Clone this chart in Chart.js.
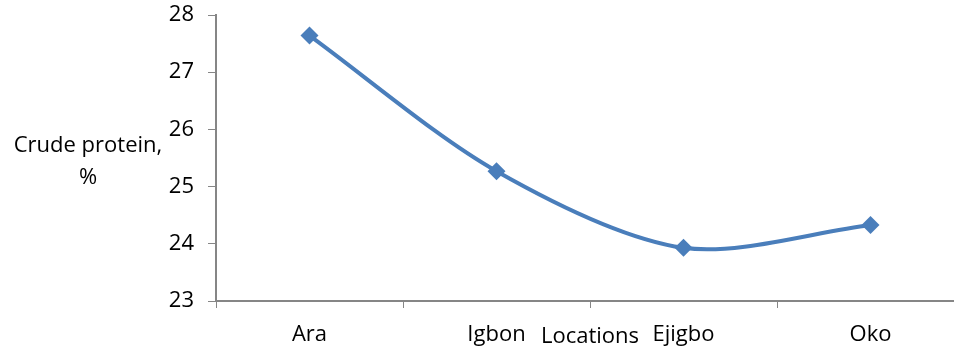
<!DOCTYPE html>
<html>
<head>
<meta charset="utf-8">
<script src="https://cdn.jsdelivr.net/npm/chart.js@4.4.0/dist/chart.umd.min.js"></script>
<style>
  html, body { margin: 0; padding: 0; background: #fff; overflow: hidden; }
  #wrap { width: 980px; height: 354px; }
</style>
</head>
<body>
<div id="wrap"><canvas id="c" width="980" height="354"></canvas></div>
<script>
const categories = ["Ara", "Igbon", "Ejigbo", "Oko"];
const proteinValues = [27.64, 25.27, 23.93, 24.33];
const yMin = 23;
const yMax = 28;
const yStep = 1;
const xTitle = "Locations";
const yTitleLines = ["Crude protein,", "%"];

const FONT = "'Open Sans', sans-serif";
const FONT_SIZE = 22;
const AXIS = "#868686";
const LINE = "#4a7ebb";

// Horizontal y-axis title at left, and the x-axis title sharing the tick-label row
const titles = {
  id: "titles",
  afterDraw(chart) {
    const ctx = chart.ctx;
    const area = chart.chartArea;
    ctx.save();
    ctx.fillStyle = "#000";
    ctx.font = FONT_SIZE + "px " + FONT;
    ctx.textAlign = "center";
    ctx.textBaseline = "middle";
    ctx.fillText(xTitle, (area.left + area.right) / 2, 337);
    yTitleLines.forEach((t, i) => ctx.fillText(t, 88, 146 + i * 32));
    ctx.restore();
  }
};

function fixSize(prop, value) {
  return function (s) {
    s[prop] = value;
    s.paddingTop = 0; s.paddingBottom = 0; s.paddingLeft = 0; s.paddingRight = 0;
  };
}

new Chart(document.getElementById("c"), {
  type: "line",
  data: {
    labels: categories,
    datasets: [{
      data: proteinValues,
      borderColor: LINE,
      backgroundColor: LINE,
      borderWidth: 4,
      tension: 0.3,
      pointStyle: "rectRot",
      pointRadius: 9,
      pointHoverRadius: 9,
      pointBorderWidth: 0,
      fill: false
    }]
  },
  options: {
    responsive: false,
    animation: false,
    layout: { padding: { top: 15, right: 16, left: 0, bottom: 0 } },
    plugins: { legend: { display: false }, tooltip: { enabled: false } },
    scales: {
      x: {
        offset: true,
        grid: { display: true, drawOnChartArea: false, drawTicks: true, tickLength: 7, color: AXIS, offset: true },
        border: { color: AXIS, width: 2 },
        ticks: { color: "#000", font: { family: FONT, size: FONT_SIZE }, padding: 14, maxRotation: 0 },
        afterFit: fixSize("height", 53)
      },
      y: {
        min: yMin,
        max: yMax,
        grid: { display: true, drawOnChartArea: false, drawTicks: true, tickLength: 8, color: AXIS },
        border: { color: AXIS, width: 2 },
        ticks: { stepSize: yStep, color: "#000", font: { family: FONT, size: FONT_SIZE }, padding: 14 },
        afterFit: fixSize("width", 216)
      }
    }
  },
  plugins: [titles]
});
</script>
</body>
</html>
